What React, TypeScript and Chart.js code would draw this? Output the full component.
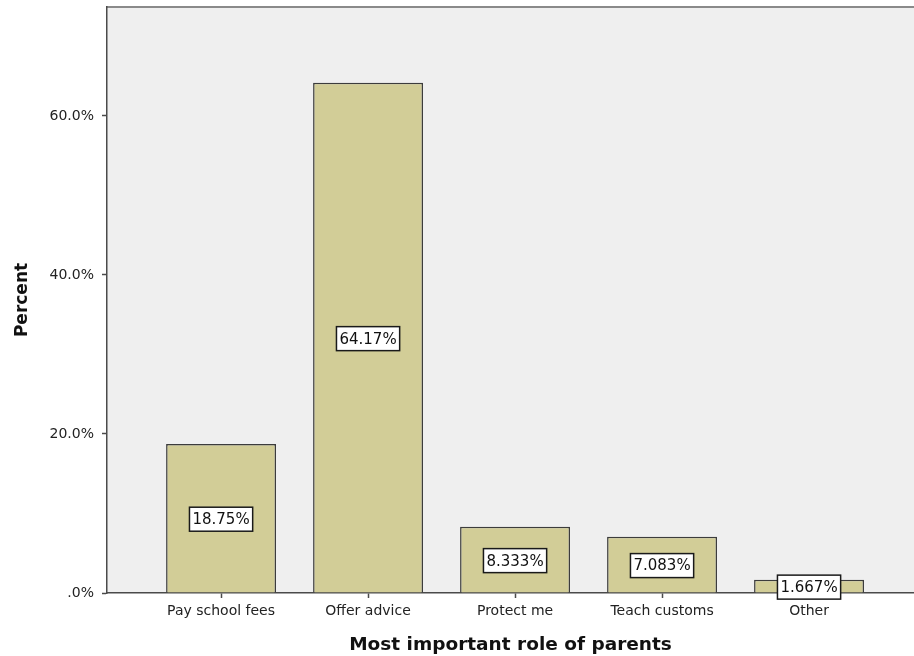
import React, { useEffect, useRef } from "react";
import { Chart, registerables } from "chart.js";

Chart.register(...registerables);

const categories = ["Pay school fees", "Offer advice", "Protect me", "Teach customs", "Other"];
const percents = [18.75, 64.17, 8.333, 7.083, 1.667];
const valueLabels = ["18.75%", "64.17%", "8.333%", "7.083%", "1.667%"];
const yTicks = [0, 20, 40, 60];

const FONT = "'DejaVu Sans', sans-serif";

const framePlugin = {
  id: "frame",
  beforeDraw(chart: any) {
    const { ctx, chartArea } = chart;
    ctx.save();
    ctx.fillStyle = "#efefef";
    ctx.fillRect(chartArea.left, chartArea.top, chartArea.right - chartArea.left, chartArea.bottom - chartArea.top);
    ctx.strokeStyle = "#8a8a8a";
    ctx.lineWidth = 2;
    ctx.beginPath();
    ctx.moveTo(chartArea.left, chartArea.top);
    ctx.lineTo(chartArea.right, chartArea.top);
    ctx.stroke();
    ctx.restore();
  },
};

const labelPlugin = {
  id: "valueBoxes",
  afterDatasetsDraw(chart: any) {
    const { ctx } = chart;
    const meta = chart.getDatasetMeta(0);
    ctx.save();
    ctx.font = `15px ${FONT}`;
    ctx.textAlign = "center";
    ctx.textBaseline = "middle";
    meta.data.forEach((bar: any, i: number) => {
      const cx = bar.x;
      const cy = (bar.y + bar.base) / 2 + 1;
      const text = valueLabels[i];
      const w = ctx.measureText(text).width + 6;
      const h = 24;
      ctx.fillStyle = "#ffffff";
      ctx.fillRect(cx - w / 2, cy - h / 2, w, h);
      ctx.strokeStyle = "#1a1a1a";
      ctx.lineWidth = 1.5;
      ctx.strokeRect(cx - w / 2, cy - h / 2, w, h);
      ctx.fillStyle = "#111111";
      ctx.fillText(text, cx, cy + 1);
    });
    ctx.restore();
  },
};

export default function App() {
  const ref = useRef<HTMLCanvasElement | null>(null);

  useEffect(() => {
    if (!ref.current) return;
    const chart = new Chart(ref.current, {
      type: "bar",
      data: {
        datasets: [
          {
            data: percents.map((v, i) => ({ x: i, y: v })),
            backgroundColor: "#d2cd97",
            borderColor: "#3c3c3c",
            borderWidth: 1.5,
            borderSkipped: "bottom",
            categoryPercentage: 1,
            barPercentage: 0.748,
          } as any,
        ],
      },
      options: {
        animation: false,
        responsive: false,
        maintainAspectRatio: false,
        layout: { padding: { top: 7, left: 0, right: 0, bottom: 0 } },
        plugins: {
          legend: { display: false },
          tooltip: { enabled: false },
        },
        scales: {
          x: {
            type: "linear",
            offset: false,
            min: -0.776,
            max: 4.714,
            afterBuildTicks: (scale: any) => {
              scale.ticks = categories.map((_, i) => ({ value: i }));
            },
            afterFit: (scale: any) => {
              scale.height = 63;
              scale.paddingLeft = 0;
              scale.paddingRight = 0;
            },
            grid: {
              display: true,
              offset: false,
              drawOnChartArea: false,
              drawTicks: true,
              tickLength: 5,
              tickColor: "#4a4a4a",
              tickWidth: 1.5,
            },
            border: { display: true, color: "#4a4a4a", width: 1.5 },
            ticks: {
              autoSkip: false,
              maxRotation: 0,
              padding: 5,
              color: "#222222",
              font: { family: FONT, size: 14 },
              callback: (v: any) => categories[v as number] ?? "",
            },
            title: {
              display: true,
              text: "Most important role of parents",
              color: "#111111",
              font: { family: FONT, size: 18.5, weight: "bold" },
              padding: { top: 0, bottom: 0 },
            },
          },
          y: {
            type: "linear",
            min: 0,
            max: 73.7,
            afterBuildTicks: (scale: any) => {
              scale.ticks = yTicks.map((v) => ({ value: v }));
            },
            afterFit: (scale: any) => {
              scale.width = 107;
              scale.paddingTop = 0;
              scale.paddingBottom = 0;
            },
            grid: {
              display: true,
              drawOnChartArea: false,
              drawTicks: true,
              tickLength: 5,
              tickColor: "#4a4a4a",
              tickWidth: 1.5,
            },
            border: { display: true, color: "#4a4a4a", width: 1.5 },
            ticks: {
              padding: 8,
              color: "#222222",
              font: { family: FONT, size: 14 },
              callback: (v: any) => (v === 0 ? ".0%" : Number(v).toFixed(1) + "%"),
            },
            title: {
              display: true,
              text: "Percent",
              color: "#111111",
              font: { family: FONT, size: 17, weight: "bold" },
              padding: { top: 12, bottom: 10 },
            },
          },
        },
      },
      plugins: [framePlugin, labelPlugin],
    });
    return () => chart.destroy();
  }, []);

  return (
    <div style={{ position: "fixed", left: 0, top: 0, width: 914, height: 656, background: "#ffffff" }}>
      <canvas ref={ref} width={914} height={656} style={{ display: "block", width: 914, height: 656 }} />
    </div>
  );
}
